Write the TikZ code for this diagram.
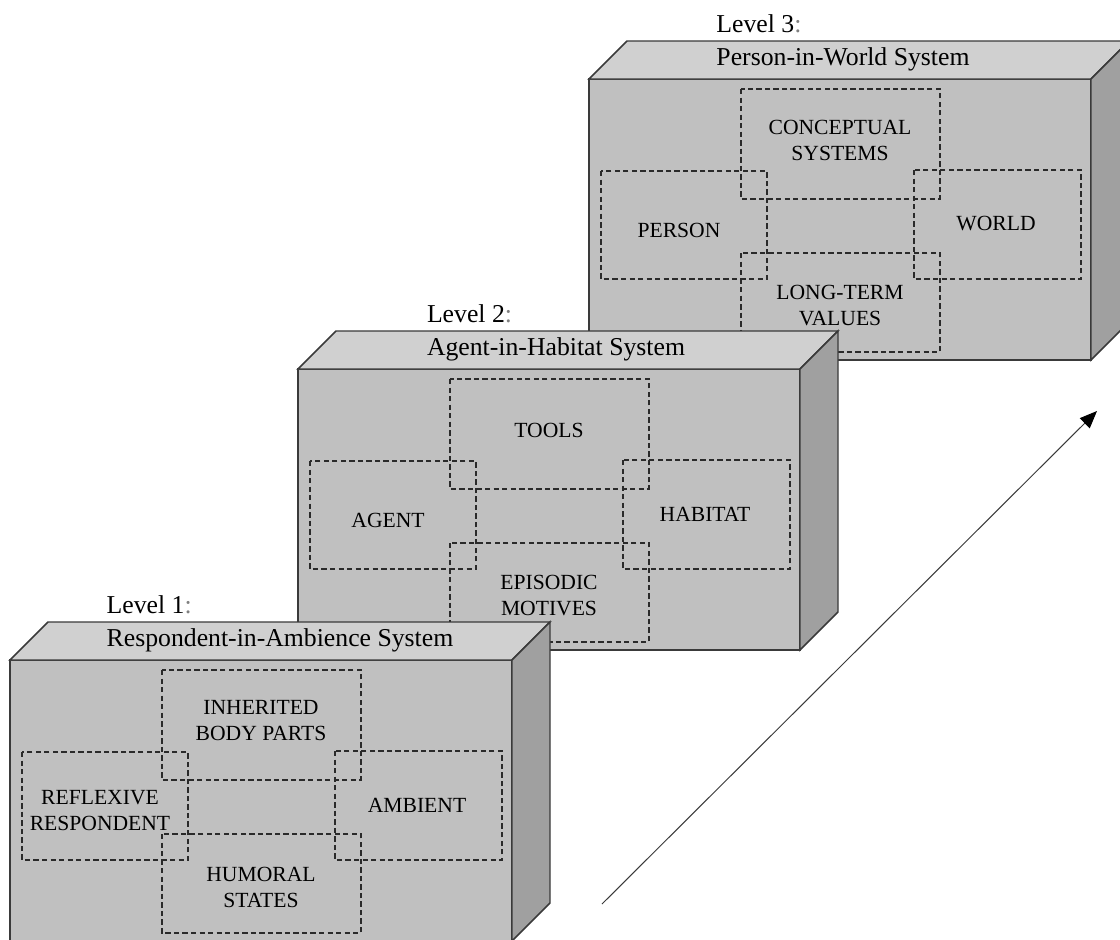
\documentclass[tikz,border=0pt]{standalone}
\usepackage{fontspec}
\setmainfont{Liberation Serif}
\usetikzlibrary{arrows.meta}

\definecolor{frontgray}{HTML}{C0C0C0}
\definecolor{topgray}{HTML}{D0D0D0}
\definecolor{sidegray}{HTML}{A0A0A0}
\definecolor{edgegray}{HTML}{3A3A3A}
\definecolor{dashgray}{HTML}{2A2A2A}
\definecolor{colongray}{HTML}{808080}

\tikzset{
  face/.style={draw=edgegray, line width=1.1pt, line join=miter},
  zone/.style={draw=dashgray, line width=0.8pt, dash pattern=on 4pt off 2.4pt},
  systitle/.style={inner sep=0pt, font=\fontsize{19.3}{22}\selectfont},
  leveltag/.style={inner sep=0pt, anchor=west, font=\fontsize{19.3}{22}\selectfont},
  zonetext/.style={inner sep=0pt, align=center, font=\fontsize{16.2}{19.5}\selectfont},
  growth/.style={draw=edgegray, line width=0.75pt,
    -{Triangle[length=13pt,width=10.5pt,color=black]}},
}

% One level: a grey cuboid with its title on the top face and four
% overlapping dashed zones on the front face.
% #1 name, #2 x, #3 y (front top-left corner), #4 level number,
% #5 title, #6 top zone, #7 left zone, #8 right zone, #9 bottom zone
% \titlex holds the horizontal centre of the title on the top face.
\newcommand\levelbox[9]{%
  \begin{scope}[shift={(#2,#3)}]
    \filldraw[face, fill=frontgray] (0,0) rectangle (502,281);
    \filldraw[face, fill=topgray] (0,0) -- (38,-38) -- (540,-38) -- (502,0) -- cycle;
    \filldraw[face, fill=sidegray] (502,0) -- (540,-38) -- (540,243) -- (502,281) -- cycle;
    \draw[zone] (152,10) rectangle (351,120);
    \draw[zone] (12,92) rectangle (178,200);
    \draw[zone] (325,91) rectangle (492,200);
    \draw[zone] (152,174) rectangle (351,273);
    \node[systitle] (#1-title) at (\titlex,-20) {#5};
    \node[leveltag] (#1-level) at (#1-title.west |- 0,-55) {Level #4\textcolor{colongray}{:}};
    \node[zonetext] (#1-top) at (251,61) {#6};
    \node[zonetext] (#1-left) at (90,151) {#7};
    \node[zonetext] (#1-right) at (407,145) {#8};
    \node[zonetext] (#1-bottom) at (251,227) {#9};
  \end{scope}}

\begin{document}
\begin{tikzpicture}[x=0.75pt, y=-0.75pt]
  \useasboundingbox (0,0) rectangle (1120,939);
  \clip (0,0) rectangle (1120,939);
  \fill[white] (0,0) rectangle (1120,939);

  \def\titlex{254}
  \levelbox{pw}{589}{79}{3}{Person-in-World System}
    {CONCEPTUAL\\SYSTEMS}{PERSON}{WORLD}{LONG-TERM\\VALUES}
  \def\titlex{258}
  \levelbox{ah}{298}{369}{2}{Agent-in-Habitat System}
    {TOOLS}{AGENT}{HABITAT}{EPISODIC\\MOTIVES}
  \def\titlex{270}
  \levelbox{ra}{10}{660}{1}{Respondent-in-Ambience System}
    {INHERITED\\BODY PARTS}{REFLEXIVE\\RESPONDENT}{AMBIENT}{HUMORAL\\STATES}

  \coordinate (growth-start) at (602,904);
  \coordinate (growth-end) at (1097,411);
  \draw[growth] (growth-start) -- (growth-end);
\end{tikzpicture}
\end{document}
